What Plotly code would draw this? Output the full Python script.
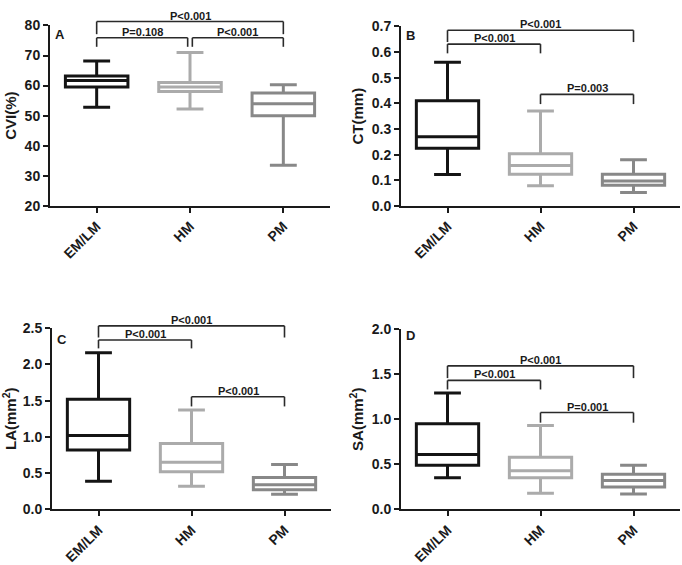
import plotly.graph_objects as go

W, H = 682, 565
categories = ["EM/LM", "HM", "PM"]
colors = ["#141414", "#ababab", "#888888"]

# Panel A: CVI(%)
a_q1 = [59.5, 58.0, 50.0]
a_med = [61.7, 59.5, 54.0]
a_q3 = [63.2, 61.0, 57.5]
a_lo = [52.8, 52.2, 33.5]
a_hi = [68.2, 71.0, 60.3]

# Panel B: CT(mm)
b_q1 = [0.225, 0.123, 0.080]
b_med = [0.270, 0.157, 0.097]
b_q3 = [0.410, 0.203, 0.123]
b_lo = [0.122, 0.078, 0.052]
b_hi = [0.560, 0.370, 0.180]

# Panel C: LA(mm2)
c_q1 = [0.82, 0.52, 0.27]
c_med = [1.02, 0.65, 0.34]
c_q3 = [1.52, 0.91, 0.44]
c_lo = [0.39, 0.32, 0.21]
c_hi = [2.16, 1.37, 0.62]

# Panel D: SA(mm2)
d_q1 = [0.49, 0.35, 0.25]
d_med = [0.61, 0.43, 0.32]
d_q3 = [0.95, 0.58, 0.39]
d_lo = [0.35, 0.18, 0.17]
d_hi = [1.29, 0.93, 0.49]

# Comparisons: (group i, group j, label, bracket top value, leg bottom value)
a_pairs = [(0, 2, "P<0.001", 81.3, 77.1), (0, 1, "P=0.108", 75.9, 72.9), (1, 2, "P<0.001", 75.9, 72.9)]
b_pairs = [(0, 2, "P<0.001", 0.685, 0.639), (0, 1, "P<0.001", 0.631, 0.595), (1, 2, "P=0.003", 0.435, 0.397)]
c_pairs = [(0, 2, "P<0.001", 2.53, 2.37), (0, 1, "P<0.001", 2.335, 2.22), (1, 2, "P<0.001", 1.553, 1.42)]
d_pairs = [(0, 2, "P<0.001", 1.592, 1.456), (0, 1, "P<0.001", 1.431, 1.33), (1, 2, "P=0.001", 1.074, 0.962)]

FONT = "Arial, Liberation Sans, sans-serif"
INK = "#1a1a1a"

panels = [
    dict(q1=a_q1, med=a_med, q3=a_q3, lo=a_lo, hi=a_hi, pairs=a_pairs, yr=[20, 80], dt=10, fmt="d",
         title="CVI(%)", letter="A", ly=0, px=(50, 330), py=(18, 204), split=True),
    dict(q1=b_q1, med=b_med, q3=b_q3, lo=b_lo, hi=b_hi, pairs=b_pairs, yr=[0, 0.7], dt=0.1, fmt=".1f",
         title="CT(mm)", letter="B", ly=0, px=(401, 680), py=(19, 204), split=False),
    dict(q1=c_q1, med=c_med, q3=c_q3, lo=c_lo, hi=c_hi, pairs=c_pairs, yr=[0, 2.5], dt=0.5, fmt=".1f",
         title="LA(mm<sup>2</sup>)", letter="C", ly=-2, px=(52, 331), py=(330, 517), split=False),
    dict(q1=d_q1, med=d_med, q3=d_q3, lo=d_lo, hi=d_hi, pairs=d_pairs, yr=[0, 2.0], dt=0.5, fmt=".1f",
         title="SA(mm<sup>2</sup>)", letter="D", ly=3, px=(401, 680), py=(331, 517), split=False),
]

XR = [-0.5, 2.5]
fig = go.Figure()
shapes, annos = [], []
for k, p in enumerate(panels):
    n = "" if k == 0 else str(k + 1)
    xa, ya = "x" + n, "y" + n
    for i, cat in enumerate(categories):
        fig.add_trace(go.Box(
            x=[cat], q1=[p["q1"][i]], median=[p["med"][i]], q3=[p["q3"][i]],
            lowerfence=[p["lo"][i]], upperfence=[p["hi"][i]],
            xaxis=xa, yaxis=ya, width=0.67, whiskerwidth=0.43,
            fillcolor="white", line=dict(color=colors[i], width=3),
            boxpoints=False, showlegend=False, hoverinfo="skip"))
    axx = dict(domain=[p["px"][0] / W, p["px"][1] / W], anchor=ya, type="category",
               categoryorder="array", categoryarray=categories, range=XR,
               showline=True, linewidth=2, linecolor=INK, ticks="outside", ticklen=5,
               tickwidth=2, tickcolor=INK, tickangle=-45, showgrid=False, zeroline=False,
               tickfont=dict(family=FONT, size=14, color=INK, weight="bold"))
    axy = dict(domain=[1 - p["py"][1] / H, 1 - p["py"][0] / H], anchor=xa, range=p["yr"], dtick=p["dt"],
               tickformat=p["fmt"], showline=True, linewidth=2, linecolor=INK, ticks="outside",
               ticklen=5, tickwidth=2, tickcolor=INK, showgrid=False, zeroline=False,
               tickfont=dict(family=FONT, size=14, color=INK, weight="bold"),
               title=dict(text=p["title"], standoff=4,
                          font=dict(family=FONT, size=15, color=INK, weight="bold")))
    fig.layout["xaxis" + n] = axx
    fig.layout["yaxis" + n] = axy

    def fx(v):
        return (v - XR[0]) / (XR[1] - XR[0])

    def fy(v, yr=p["yr"]):
        return (v - yr[0]) / (yr[1] - yr[0])

    for (i, j, txt, top, bot) in p["pairs"]:
        x1, x2 = float(i), float(j)
        if p["split"] and j - i == 1:
            if i == 0:
                x2 -= 0.025
            else:
                x1 += 0.025
        lc = dict(color="#2a2a2a", width=1.6)
        ref = dict(xref=xa + " domain", yref=ya + " domain", type="line", line=lc)
        shapes.append(dict(x0=fx(x1), x1=fx(x1), y0=fy(bot), y1=fy(top), **ref))
        shapes.append(dict(x0=fx(x1), x1=fx(x2), y0=fy(top), y1=fy(top), **ref))
        shapes.append(dict(x0=fx(x2), x1=fx(x2), y0=fy(top), y1=fy(bot), **ref))
        annos.append(dict(xref=xa + " domain", yref=ya + " domain", x=fx((x1 + x2) / 2), y=fy(top),
                          text=txt, showarrow=False, xanchor="center", yanchor="bottom", yshift=-2,
                          font=dict(family=FONT, size=11, color=INK, weight="bold")))
    annos.append(dict(xref=xa + " domain", yref=ya + " domain", x=0.01, y=1, yshift=p["ly"],
                      text=p["letter"], showarrow=False, xanchor="left", yanchor="top",
                      font=dict(family=FONT, size=13, color=INK, weight="bold")))

fig.update_layout(width=W, height=H, margin=dict(l=0, r=0, t=0, b=0),
                  paper_bgcolor="white", plot_bgcolor="white", shapes=shapes, annotations=annos,
                  boxmode="overlay")
fig.write_html("out.html", config={"displayModeBar": False},
               post_script="document.body.style.margin='0';")
